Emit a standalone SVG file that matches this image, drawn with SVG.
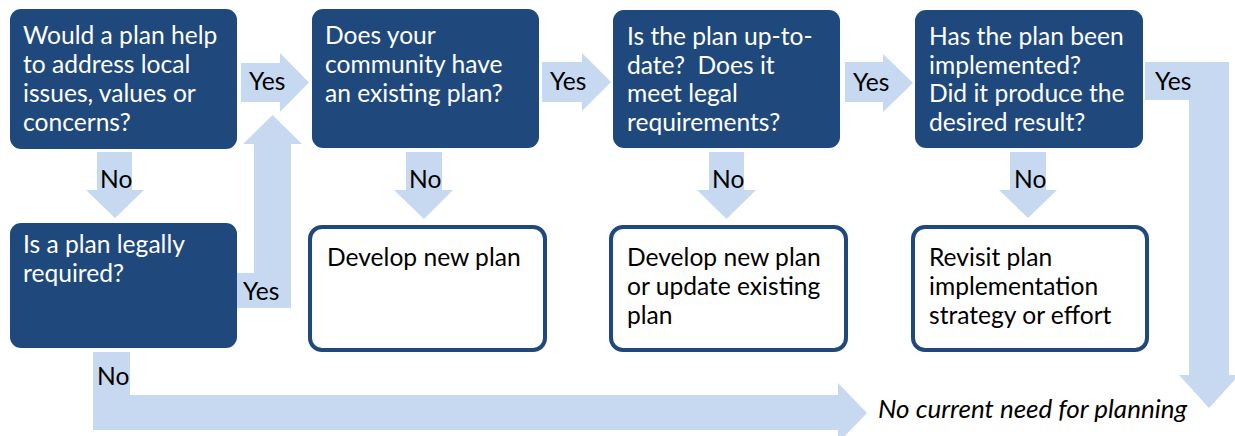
<svg xmlns="http://www.w3.org/2000/svg" width="1235" height="436" viewBox="0 0 1235 436">
<style>
.dark{fill:#1F497D}
.white{fill:#FFFFFF;stroke:#1F497D;stroke-width:4}
.arrow{fill:#C6D9F1}
text{font-family:Lato,"Liberation Sans",sans-serif;font-size:24.6px;white-space:pre}
.wt{fill:#FFFFFF}
.bt{fill:#000000}
.it{font-style:italic;font-size:26px}
</style>
<rect width="1235" height="436" fill="#FFFFFF"/>
<g id="connectors">
<path class="arrow" d="M241,63 H280 V53 L309,82.5 L280,112 V102 H241 Z"/>
<path class="arrow" d="M542,62 H582 V53 L611,82 L582,111 V102 H542 Z"/>
<path class="arrow" d="M845,62 H883 V54 L913,83 L883,112 V102 H845 Z"/>
<path class="arrow" d="M237,273 H254 V144 H243 L272.5,115 L302,144 H291 V308 H237 Z"/>
<path class="arrow" d="M97,152 H132 V190 H144 L115,218 L86,190 H97 Z"/>
<path class="arrow" d="M406,152 H442 V190 H453 L424,219 L394,190 H406 Z"/>
<path class="arrow" d="M709,152 H744 V190 H756 L726.5,219 L697,190 H709 Z"/>
<path class="arrow" d="M1010,152 H1046 V190 H1057 L1028,218 L999,190 H1010 Z"/>
<path class="arrow" d="M1145,62 H1229 V375 H1239 L1209,408 L1179,375 H1189 V100 H1145 Z"/>
<path class="arrow" d="M93,352 H130 V395 H838 V383 L867,413 L838,443 V430 H93 Z"/>
<text class="bt" x="249" y="90">Yes</text>
<text class="bt" x="550" y="90">Yes</text>
<text class="bt" x="853" y="91">Yes</text>
<text class="bt" x="1155" y="90">Yes</text>
<text class="bt" x="243" y="300">Yes</text>
<text class="bt" x="100" y="188">No</text>
<text class="bt" x="409" y="188">No</text>
<text class="bt" x="712" y="188">No</text>
<text class="bt" x="1014" y="188">No</text>
<text class="bt" x="97" y="385">No</text>
</g>
<g id="q1">
<rect class="dark" x="10" y="9" width="227" height="140" rx="11"/>
<text class="wt" x="23" y="44">Would a plan help</text>
<text class="wt" x="23" y="73">to address local</text>
<text class="wt" x="23" y="102">issues, values or</text>
<text class="wt" x="23" y="131">concerns?</text>
</g>
<g id="q2">
<rect class="dark" x="312" y="9" width="227" height="139" rx="11"/>
<text class="wt" x="325" y="44">Does your</text>
<text class="wt" x="325" y="73">community have</text>
<text class="wt" x="325" y="102">an existing plan?</text>
</g>
<g id="q3">
<rect class="dark" x="613" y="10" width="227" height="138" rx="11"/>
<text class="wt" x="627" y="45">Is the plan up-to-</text>
<text class="wt" x="627" y="74">date?  Does it</text>
<text class="wt" x="627" y="102">meet legal</text>
<text class="wt" x="627" y="131">requirements?</text>
</g>
<g id="q4">
<rect class="dark" x="915" y="10" width="228" height="138" rx="11"/>
<text class="wt" x="929" y="45">Has the plan been</text>
<text class="wt" x="929" y="74">implemented?</text>
<text class="wt" x="929" y="102">Did it produce the</text>
<text class="wt" x="929" y="131">desired result?</text>
</g>
<g id="q5">
<rect class="dark" x="10" y="223" width="227" height="125" rx="11"/>
<text class="wt" x="23" y="253">Is a plan legally</text>
<text class="wt" x="23" y="282">required?</text>
</g>
<g id="r1">
<rect class="white" x="310" y="227" width="235" height="123" rx="12"/>
<text class="bt" x="327" y="266">Develop new plan</text>
</g>
<g id="r2">
<rect class="white" x="611" y="227" width="235" height="123" rx="12"/>
<text class="bt" x="627" y="266">Develop new plan</text>
<text class="bt" x="627" y="295">or update existing</text>
<text class="bt" x="627" y="324">plan</text>
</g>
<g id="r3">
<rect class="white" x="913" y="227" width="234" height="123" rx="12"/>
<text class="bt" x="929" y="266">Revisit plan</text>
<text class="bt" x="929" y="295">implementation</text>
<text class="bt" x="929" y="324">strategy or effort</text>
</g>
<g id="end">
<text class="bt it" x="878" y="418">No current need for planning</text>
</g>
</svg>
